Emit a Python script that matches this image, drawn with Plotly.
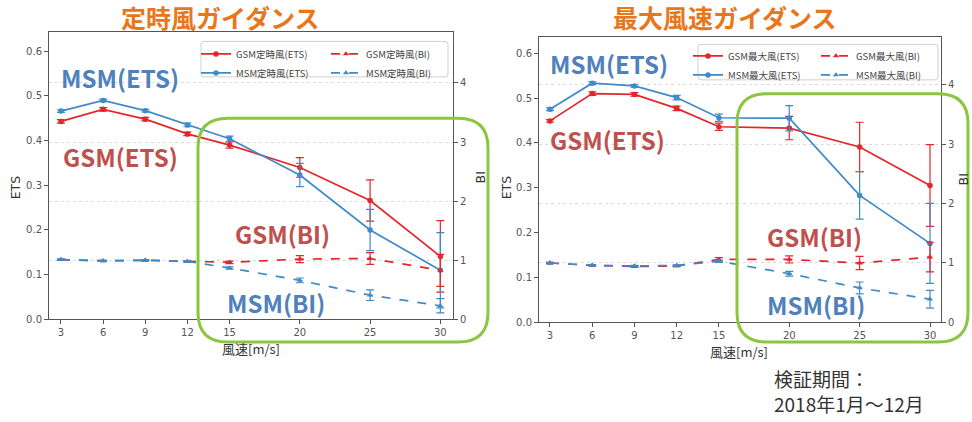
import plotly.graph_objects as go

# ---- data -------------------------------------------------------------
wind = [3, 6, 9, 12, 15, 20, 25, 30]

# 定時風ガイダンス
gsm_ets_t = [0.443, 0.470, 0.448, 0.415, 0.390, 0.340, 0.266, 0.141]
gsm_ets_t_err = [0.004, 0.004, 0.004, 0.004, 0.007, 0.022, 0.046, 0.080]
msm_ets_t = [0.466, 0.490, 0.467, 0.435, 0.404, 0.323, 0.200, 0.110]
msm_ets_t_err = [0.003, 0.003, 0.003, 0.004, 0.006, 0.026, 0.046, 0.084]
gsm_bi_t = [1.01, 0.99, 1.00, 0.98, 0.965, 1.02, 1.03, 0.83]
gsm_bi_t_err = [0.01, 0.01, 0.01, 0.01, 0.02, 0.06, 0.10, 0.27]
msm_bi_t = [1.01, 0.99, 1.00, 0.98, 0.87, 0.66, 0.41, 0.23]
msm_bi_t_err = [0.01, 0.01, 0.01, 0.01, 0.02, 0.04, 0.09, 0.12]

# 最大風速ガイダンス
gsm_ets_m = [0.449, 0.510, 0.508, 0.477, 0.436, 0.433, 0.391, 0.305]
gsm_ets_m_err = [0.003, 0.004, 0.004, 0.005, 0.008, 0.026, 0.055, 0.091]
msm_ets_m = [0.475, 0.533, 0.527, 0.501, 0.456, 0.455, 0.283, 0.176]
msm_ets_m_err = [0.003, 0.003, 0.003, 0.005, 0.008, 0.028, 0.053, 0.089]
gsm_bi_m = [1.00, 0.96, 0.94, 0.95, 1.06, 1.06, 1.00, 1.10]
gsm_bi_m_err = [0.01, 0.01, 0.01, 0.01, 0.03, 0.06, 0.11, 0.25]
msm_bi_m = [1.00, 0.96, 0.95, 0.96, 1.03, 0.82, 0.58, 0.39]
msm_bi_m_err = [0.01, 0.01, 0.01, 0.01, 0.02, 0.04, 0.10, 0.15]

ets_ticks = [0.0, 0.1, 0.2, 0.3, 0.4, 0.5, 0.6]
bi_ticks = [0, 1, 2, 3, 4]

# ---- styling ----------------------------------------------------------
W, H = 972, 422
RED = "#E3262B"
BLUE = "#3F8AC9"
LBL_RED = "#C0504D"
LBL_BLUE = "#4F81BD"
ORANGE = "#E8761B"
GREEN = "#8CC63F"
AX = "#555555"
JP = "Noto Sans CJK JP"


def px(x):
    return x / W


def py(y):
    return 1 - y / H


def rounded_rect(x0, y0, x1, y1, r):
    """SVG path of a rounded rectangle, given in pixels, returned in paper units."""
    pts = [
        ("M", [(x0 + r, y0)]),
        ("L", [(x1 - r, y0)]),
        ("Q", [(x1, y0), (x1, y0 + r)]),
        ("L", [(x1, y1 - r)]),
        ("Q", [(x1, y1), (x1 - r, y1)]),
        ("L", [(x0 + r, y1)]),
        ("Q", [(x0, y1), (x0, y1 - r)]),
        ("L", [(x0, y0 + r)]),
        ("Q", [(x0, y0), (x0 + r, y0)]),
    ]
    out = []
    for cmd, coords in pts:
        out.append(cmd + " ".join(f"{px(a):.5f},{py(b):.5f}" for a, b in coords))
    return " ".join(out) + " Z"


fig = go.Figure()


def add_series(x, y, err, name, color, dash, symbol, xa, ya, legend):
    fig.add_trace(go.Scatter(
        x=x, y=y, name=name, mode="lines+markers",
        xaxis=xa, yaxis=ya, legend=legend,
        line=dict(color=color, width=1.7, dash=dash),
        marker=dict(color=color, size=5.5, symbol=symbol),
        error_y=dict(type="data", array=err, visible=True,
                     color=color, thickness=1.2, width=4),
    ))


# left panel
add_series(wind, gsm_ets_t, gsm_ets_t_err, "GSM定時風(ETS)", RED, "solid", "circle", "x", "y", "legend")
add_series(wind, msm_ets_t, msm_ets_t_err, "MSM定時風(ETS)", BLUE, "solid", "circle", "x", "y", "legend")
add_series(wind, gsm_bi_t, gsm_bi_t_err, "GSM定時風(BI)", RED, "dash", "triangle-up", "x", "y2", "legend2")
add_series(wind, msm_bi_t, msm_bi_t_err, "MSM定時風(BI)", BLUE, "dash", "triangle-up", "x", "y2", "legend2")

# right panel
add_series(wind, gsm_ets_m, gsm_ets_m_err, "GSM最大風(ETS)", RED, "solid", "circle", "x2", "y3", "legend3")
add_series(wind, msm_ets_m, msm_ets_m_err, "MSM最大風(ETS)", BLUE, "solid", "circle", "x2", "y3", "legend3")
add_series(wind, gsm_bi_m, gsm_bi_m_err, "GSM最大風(BI)", RED, "dash", "triangle-up", "x2", "y4", "legend4")
add_series(wind, msm_bi_m, msm_bi_m_err, "MSM最大風(BI)", BLUE, "dash", "triangle-up", "x2", "y4", "legend4")

tickfont = dict(family="DejaVu Sans", size=10, color="#555555")
common_x = dict(tickvals=wind, ticktext=[str(v) for v in wind], ticks="outside", ticklen=4,
                tickcolor=AX, showline=True, linecolor=AX, linewidth=1, mirror=True,
                showgrid=False, zeroline=False, tickfont=tickfont)
common_ets = dict(tickvals=ets_ticks, ticktext=[f"{v:.1f}" for v in ets_ticks], ticks="outside",
                  ticklen=4, tickcolor=AX, showline=True, linecolor=AX, linewidth=1,
                  showgrid=False, zeroline=False, tickfont=tickfont)
common_bi = dict(tickvals=bi_ticks, ticktext=[str(v) for v in bi_ticks], ticks="outside",
                 ticklen=4, tickcolor=AX, showline=True, linecolor=AX, linewidth=1,
                 showgrid=True, gridcolor="#dcdcdc", griddash="dot", gridwidth=1,
                 zeroline=False, tickfont=tickfont, side="right")

L_dom_x = [px(49), px(453)]
L_dom_y = [py(324), py(32)]
R_dom_x = [px(539), px(941)]
R_dom_y = [py(327), py(38)]

legend_common = dict(bgcolor="rgba(0,0,0,0)", borderwidth=0, xanchor="left", yanchor="top",
                     font=dict(family=JP, size=9.5, color="#444444"), tracegroupgap=0,
                     itemwidth=30)

fig.update_layout(
    width=W, height=H, margin=dict(l=0, r=0, t=0, b=0),
    paper_bgcolor="white", plot_bgcolor="white", showlegend=True,
    xaxis=dict(domain=L_dom_x, range=[2.15, 30.9], anchor="y", **common_x),
    yaxis=dict(domain=L_dom_y, range=[0, 0.644], anchor="x", **common_ets),
    yaxis2=dict(range=[0, 4.87], overlaying="y", anchor="x", **common_bi),
    xaxis2=dict(domain=R_dom_x, range=[2.22, 30.78], anchor="y3", **common_x),
    yaxis3=dict(domain=R_dom_y, range=[0, 0.635], anchor="x2", **common_ets),
    yaxis4=dict(range=[0, 4.80], overlaying="y3", anchor="x2", **common_bi),
    legend=dict(x=px(196), y=py(40), **legend_common),
    legend2=dict(x=px(326), y=py(40), **legend_common),
    legend3=dict(x=px(688), y=py(42), **legend_common),
    legend4=dict(x=px(816), y=py(42), **legend_common),
)

shapes = [
    # legend frames
    dict(type="path", path=rounded_rect(201, 42, 448, 78, 3), xref="paper", yref="paper",
         line=dict(color="#d0d0d0", width=1), fillcolor="white", layer="below"),
    dict(type="path", path=rounded_rect(698, 45, 938, 81, 3), xref="paper", yref="paper",
         line=dict(color="#d0d0d0", width=1), fillcolor="white", layer="below"),
    # highlighted strong-wind regions
    dict(type="path", path=rounded_rect(198, 120, 488, 347, 30), xref="paper", yref="paper",
         line=dict(color=GREEN, width=3), layer="above"),
    dict(type="path", path=rounded_rect(737, 95, 968, 347, 30), xref="paper", yref="paper",
         line=dict(color=GREEN, width=3), layer="above"),
]
fig.update_layout(shapes=shapes)


def label(text, x, y, color, size, weight="normal", angle=0, xanchor="center", family=JP):
    fig.add_annotation(text=text, x=px(x), y=py(y), xref="paper", yref="paper",
                       showarrow=False, textangle=angle, xanchor=xanchor, yanchor="middle",
                       align="left" if xanchor == "left" else "center",
                       font=dict(family=family, size=size, color=color, weight=weight))


# panel titles
label("定時風ガイダンス", 220, 17, ORANGE, 25, "bold")
label("最大風速ガイダンス", 725, 17, ORANGE, 25, "bold")

# series labels
label("MSM(ETS)", 120, 79, LBL_BLUE, 24, "bold")
label("GSM(ETS)", 120, 159, LBL_RED, 24, "bold")
label("GSM(BI)", 282, 237, LBL_RED, 24, "bold")
label("MSM(BI)", 276, 307, LBL_BLUE, 24, "bold")
label("MSM(ETS)", 609, 64, LBL_BLUE, 24, "bold")
label("GSM(ETS)", 607, 142, LBL_RED, 24, "bold")
label("GSM(BI)", 814, 240, LBL_RED, 24, "bold")
label("MSM(BI)", 816, 309, LBL_BLUE, 24, "bold")

# axis titles
label("ETS", 15, 190, "#333333", 12.5, angle=-90, family="DejaVu Sans")
label("BI", 480, 180, "#333333", 12.5, angle=-90, family="DejaVu Sans")
label("ETS", 506, 190, "#333333", 12.5, angle=-90, family="DejaVu Sans")
label("BI", 963, 182, "#333333", 12.5, angle=-90, family="DejaVu Sans")
label("風速[m/s]", 251, 354, "#333333", 13)
label("風速[m/s]", 739, 357, "#333333", 13)

# verification period
label("検証期間：<br>2018年1月～12月", 772, 397, "#333333", 19, xanchor="left")

fig.write_html("out.html")
